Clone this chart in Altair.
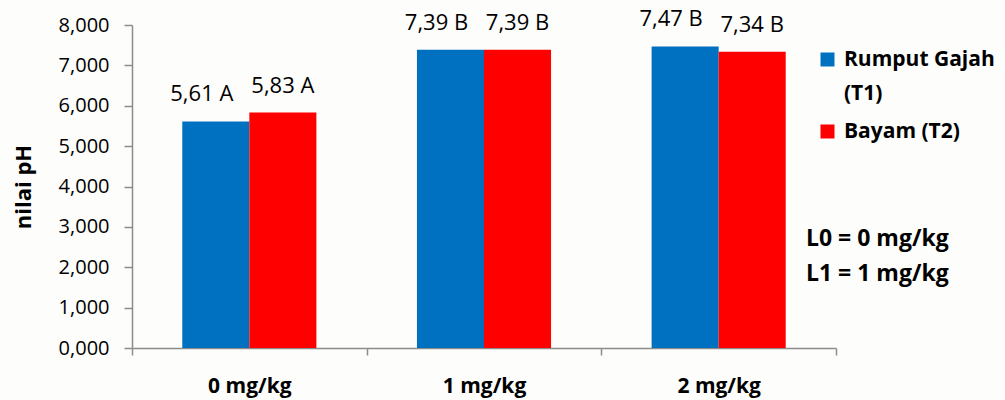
import altair as alt
import pandas as pd

# Dose levels on the x axis and the two plant treatments
doses = ["0 mg/kg", "1 mg/kg", "2 mg/kg"]
series = ["Rumput Gajah (T1)", "Bayam (T2)"]

# Mean pH per dose for each treatment, with significance letters
ph_t1 = [5.61, 7.39, 7.47]
ph_t2 = [5.83, 7.39, 7.34]
letters_t1 = ["A", "B", "B"]
letters_t2 = ["A", "B", "B"]

y_ticks = [0, 1, 2, 3, 4, 5, 6, 7, 8]
notes = ["L0 = 0 mg/kg", "L1 = 1 mg/kg"]

colors = ["#0070C0", "#FF0000"]
FONT = "Open Sans"

rows = []
for dose, v1, v2, l1, l2 in zip(doses, ph_t1, ph_t2, letters_t1, letters_t2):
    for name, v, letter in ((series[0], v1, l1), (series[1], v2, l2)):
        rows.append({
            "dose": dose,
            "series": name,
            "ph": v,
            "label": f"{v:.2f}".replace(".", ",") + " " + letter,
        })
df = pd.DataFrame(rows)

x_enc = alt.X(
    "dose:N",
    sort=doses,
    title=None,
    scale=alt.Scale(paddingInner=0, paddingOuter=0),
    axis=alt.Axis(
        labelFont=FONT, labelFontSize=21, labelFontWeight="bold", labelColor="#000",
        labelAngle=0, labelPadding=20, tickSize=7, tickBand="extent",
        domainColor="#8c8c8c", tickColor="#8c8c8c", domainWidth=1.5, tickWidth=1.5,
        grid=False,
    ),
)
y_enc = alt.Y(
    "ph:Q",
    title="nilai pH",
    scale=alt.Scale(domain=[0, 8], nice=False),
    axis=alt.Axis(
        values=y_ticks,
        labelExpr="replace(format(datum.value, '.3f'), '.', ',')",
        labelFont=FONT, labelFontSize=20, labelColor="#000", labelPadding=15,
        tickSize=8, tickColor="#8c8c8c", domainColor="#8c8c8c",
        domainWidth=1.5, tickWidth=1.5, grid=False,
        titleFont=FONT, titleFontSize=22, titleFontWeight="bold", titleColor="#000",
        titleAngle=-90, titleX=-109, titleY=161.5, titleAlign="center",
        titleBaseline="middle",
    ),
)
# Two bars per dose group, centred in the group with an outer gap on each side
x_off = alt.XOffset(
    "series:N", sort=series,
    scale=alt.Scale(paddingInner=0, paddingOuter=0.75),
)

# Square legend swatch drawn a little below the label anchor so that it
# lines up with the first text line of each entry
swatch = "M-1,0.57H1V2.57H-1Z"

bars = alt.Chart(df).mark_bar().encode(
    x=x_enc,
    xOffset=x_off,
    y=y_enc,
    color=alt.Color(
        "series:N",
        sort=series,
        scale=alt.Scale(domain=series, range=colors),
        legend=alt.Legend(
            title=None, orient="none", legendX=685, legendY=13,
            symbolType=swatch, symbolSize=196, symbolStrokeWidth=0,
            symbolOpacity=1,
            labelFont=FONT, labelFontSize=21, labelFontWeight="bold",
            labelColor="#000", labelLimit=300, rowPadding=6,
            labelOffset=6, labelBaseline="top",
            labelExpr="datum.label == 'Rumput Gajah (T1)' ? ['Rumput Gajah', '(T1)'] : datum.label",
        ),
    ),
)

label_style = dict(font=FONT, fontSize=22, color="#000", baseline="bottom", dy=-15)
labels_t1 = alt.Chart(df).transform_filter(
    alt.datum.series == series[0]
).mark_text(dx=-14, **label_style).encode(
    x=alt.X("dose:N", sort=doses), xOffset=x_off, y="ph:Q", text="label:N"
)
labels_t2 = alt.Chart(df).transform_filter(
    alt.datum.series == series[1]
).mark_text(**label_style).encode(
    x=alt.X("dose:N", sort=doses), xOffset=x_off, y="ph:Q", text="label:N"
)

note_style = dict(font=FONT, fontSize=23, fontWeight="bold", color="#000",
                  align="left", baseline="middle")
note0 = alt.Chart(pd.DataFrame({"note": [notes[0]]})).mark_text(**note_style).encode(
    x=alt.value(674), y=alt.value(214), text="note:N"
)
note1 = alt.Chart(pd.DataFrame({"note": [notes[1]]})).mark_text(**note_style).encode(
    x=alt.value(674), y=alt.value(249), text="note:N"
)

chart = alt.layer(bars, labels_t1, labels_t2, note0, note1).properties(
    width=704,
    height=323,
    background="#fdfdfb",
    padding={"left": 132, "top": 25, "right": 169, "bottom": 52},
    autosize=alt.AutoSizeParams(type="none"),
).configure(
    style={"guide-label": {"lineHeight": 34}},
).configure_view(stroke=None)

chart.save("out.html", embed_options={"renderer": "svg", "actions": False})
